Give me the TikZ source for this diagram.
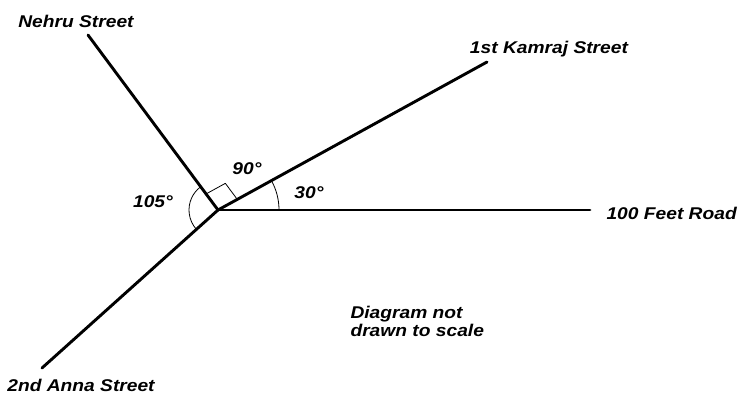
\documentclass[tikz,border=0pt]{standalone}
\usepackage{fontspec}
\setmainfont{Liberation Sans}[FakeStretch=1.13]
\usetikzlibrary{calc, angles}
\begin{document}
\begin{tikzpicture}[x=1pt, y=1pt, font=\fontsize{17}{18}\selectfont\bfseries\itshape, line join=round, line cap=round]
	\useasboundingbox (0,0) rectangle (738,394);
	% Junction and road ends
	\coordinate (O) at (218,184);
	\coordinate (N) at (88,359);
	\coordinate (K) at (487,332);
	\coordinate (R) at (590,184);
	\coordinate (A) at (42,26);
	
	% Roads
	\draw[line width=2.9pt] (O) -- (N);
	\draw[line width=2.9pt] (O) -- (K);
	\draw[line width=2.9pt] (O) -- (R);
	\draw[line width=2.9pt] (O) -- (A);
	
	% Right angle mark
	\coordinate (p1) at ($(O)!20pt!(N)$);
	\coordinate (p3) at ($(O)!22pt!(K)$);
	\draw[line width=0.8pt] (p1) -- ($(p1)+(p3)-(O)$) -- (p3);
	
	% Angle arcs
	\pic[draw, line width=0.8pt, angle radius=61pt] {angle=R--O--K};
	\pic[draw, line width=0.8pt, angle radius=29pt] {angle=N--O--A};
	
	% Street names
	\node (nehru) at (76,373) {Nehru Street};
	\node (kamraj) at (549,345) {1st Kamraj Street};
	\node[anchor=west] (road) at (603,181) {100 Feet Road};
	\node (anna) at (81,9) {2nd Anna Street};
	
	% Angles and note
	\node (a90) at (247,225) {90°};
	\node (a30) at (309,201) {30°};
	\node (a105) at (153,192) {105°};
	\node[anchor=west, align=left] (note) at (347,73) {Diagram not\\drawn to scale};
\end{tikzpicture}
\end{document}
